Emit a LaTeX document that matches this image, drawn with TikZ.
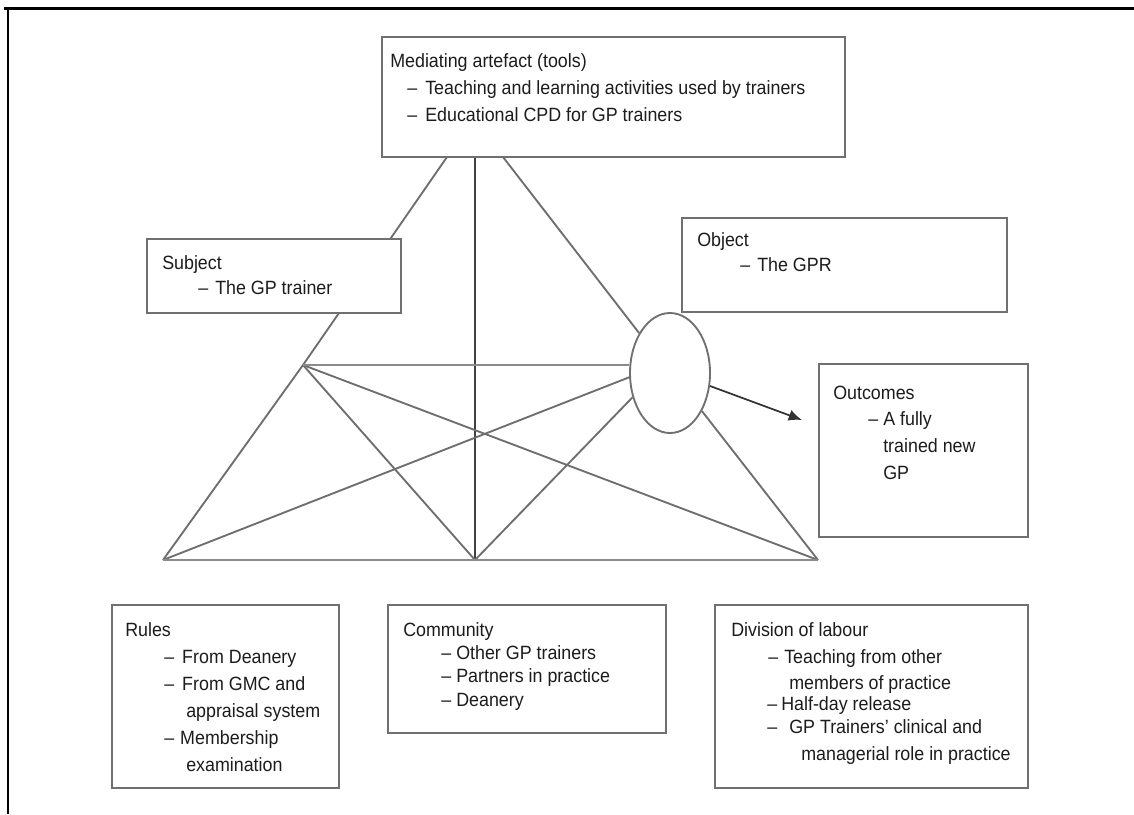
\documentclass[tikz,border=0pt]{standalone}
\usepackage{fontspec}
\usetikzlibrary{shapes.geometric,arrows.meta,fit}
\newfontfamily\boxfont{Liberation Sans}[FakeStretch=0.93,Ligatures=TeX]
\newlength\pxu
\setlength\pxu{0.75pt}
% bullet line: dash indent, gap to text, text
\newcommand\itm[3]{\hspace*{#1\pxu}\makebox[#2\pxu][l]{–}#3}
% continuation line of a bullet
\newcommand\cont[2]{\hspace*{#1\pxu}#2}
\definecolor{ink}{HTML}{1C1C1C}
\definecolor{edge}{HTML}{707070}
\definecolor{wire}{HTML}{6E6E6E}
\pgfdeclarelayer{bg}
\pgfsetlayers{bg,main}
\begin{document}
\begin{tikzpicture}[x=0.75pt,y=-0.75pt,
  box/.style={draw=edge,line width=1.5pt,fill=white,inner sep=0pt},
  txt/.style={anchor=base west,inner sep=0pt,align=left,text=ink,
    font={\boxfont\fontsize{14.4}{20}\selectfont}},
  wireline/.style={draw=wire,line width=1.4pt},
  frame/.style={draw=black,line width=2.2pt}]
\useasboundingbox (0,0) rectangle (1134,814);

% outer frame (top and left rules)
\draw[frame] (4,8.5) -- (1134,8.5);
\draw[frame] (8,8.5) -- (8,814);

% activity system boxes
\node[box,fit={(382,37)(845,157)}] (med) {};
\node[box,fit={(147,239)(401,313)}] (subj) {};
\node[box,fit={(682,218)(1007,312)}] (objbox) {};
\node[box,fit={(819,364)(1028,537)}] (outc) {};
\node[box,fit={(112,605)(339,788)}] (rules) {};
\node[box,fit={(388,605)(666,733)}] (comm) {};
\node[box,fit={(715,605)(1028,788)}] (div) {};

% object ellipse
\node[ellipse,draw=edge,line width=1.4pt,fill=white,inner sep=0pt,
  minimum width=60pt,minimum height=90pt] (ell) at (670,373) {};

% triangle corners and attachment points
\coordinate (ul) at (303,365);
\coordinate (bl) at (163,560);
\coordinate (bm) at (475,560);
\coordinate (br) at (818,560);
\coordinate (m1) at (447,157);
\coordinate (m2) at (475,157);
\coordinate (m3) at (503,157);
\coordinate (tip) at (802,420);

\begin{pgfonlayer}{bg}
\draw[wireline] (m1) -- (ul);
\draw[draw=black!75,line width=1.1pt] (m2) -- (bm);
\draw[wireline] (m3) -- (ell);
\draw[wireline] (ul) -- (bl);
\draw[wireline] (ul) -- (bm);
\draw[wireline] (ul) -- (br);
\draw[draw=wire!80,line width=1.8pt] (ul) -- (ul -| ell.west);
\draw[wireline] (bl) -- (ell.186);
\draw[wireline] (bm) -- (ell.213);
\draw[wireline] (ell.310) -- (br);
\draw[draw=wire!80,line width=1.8pt] (bl) -- (br);
\end{pgfonlayer}

\draw[draw=black!80,line width=1.3pt,-{Latex[length=10pt,width=8.5pt]}] (ell.342) -- (tip);

% box texts (anchored at the baseline of their last line)
\node[txt] (medt) at (390,121) {Mediating artefact (tools)\\
  \itm{17}{18}{Teaching and learning activities used by trainers}\\
  \itm{17}{18}{Educational CPD for GP trainers}};
\node[txt,font={\boxfont\fontsize{14.4}{18.75}\selectfont}] (subjt) at (162,294)
  {Subject\\ \itm{36}{17}{The GP trainer}};
\node[txt,font={\boxfont\fontsize{14.4}{18.75}\selectfont}] (objt) at (697,271)
  {Object\\ \itm{43}{17}{The GPR}};
\node[txt] (outct) at (833,479) {Outcomes\\
  \itm{35}{15}{A fully}\\
  \cont{50}{trained new}\\
  \cont{50}{GP}};
\node[txt,font={\boxfont\fontsize{14.4}{20.25}\selectfont}] (rulest) at (125,771) {Rules\\
  \itm{39}{18}{From Deanery}\\
  \itm{39}{18}{From GMC and}\\
  \cont{61}{appraisal system}\\
  \itm{39}{16}{Membership}\\
  \cont{61}{examination}};
\node[txt,font={\boxfont\fontsize{14.4}{17.5}\selectfont}] (commt) at (403,706) {Community\\
  \itm{38}{15}{Other GP trainers}\\
  \itm{38}{15}{Partners in practice}\\
  \itm{38}{15}{Deanery}};
\node[txt] (divt) at (731,760) {Division of labour\\[0.25pt]
  \itm{37}{16}{Teaching from other}\\[-0.5pt]
  \cont{58}{members of practice}\\[-4.25pt]
  \itm{36}{14}{Half-day release}\\[-2.75pt]
  \itm{36}{22}{GP Trainers' clinical and}\\[0.25pt]
  \cont{70}{managerial role in practice}};
\end{tikzpicture}
\end{document}
